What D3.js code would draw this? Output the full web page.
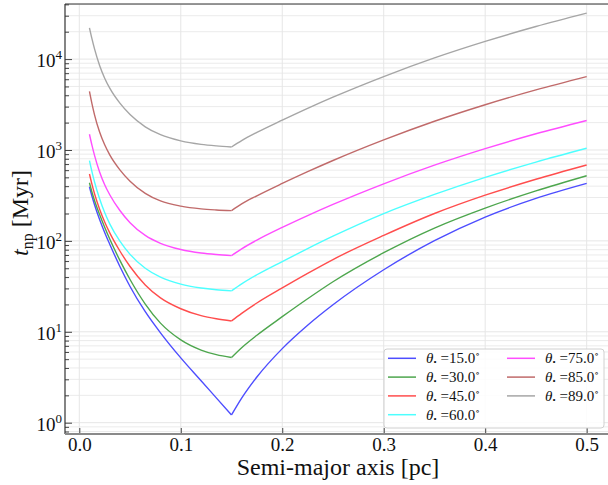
<!DOCTYPE html>
<html>
<head>
<meta charset="utf-8">
<script src="https://cdn.jsdelivr.net/npm/d3@7"></script>
<style>
  html, body { margin: 0; padding: 0; background: #fff; }
  svg { display: block; }
  text { font-family: "Liberation Serif", "DejaVu Serif", serif; }
</style>
</head>
<body>
<svg id="chart" width="608" height="485"></svg>
<script>
// ---- data ----
const semiMajor = [0.01, 0.0125, 0.015, 0.02, 0.025, 0.03, 0.04, 0.05, 0.065, 0.08, 0.1, 0.12, 0.135, 0.15,
                   0.16, 0.175, 0.2, 0.225, 0.25, 0.3, 0.35, 0.4, 0.45, 0.5];
const kinkA = 0.15;
const thetas = [15, 30, 45, 60, 75, 85, 89];
const t15 = [394.5, 309.7, 250.3, 172.2, 124.0, 91.9, 52.3, 31.5, 16.63, 9.74, 5.16, 2.894, 1.876, 1.216,
             1.862, 3.181, 6.53, 11.81, 19.84, 48.14, 100.6, 183.0, 293.4, 429.1];
const t30 = [436.5, 342.8, 278.6, 195.0, 141.3, 104.7, 61.0, 37.6, 20.18, 12.45, 8.15, 6.30, 5.60, 5.22,
             6.68, 9.16, 14.66, 23.07, 35.5, 74.1, 138.4, 229.6, 354.8, 521.2];
const t45 = [544.5, 417.8, 330.0, 223.1, 161.6, 122.6, 77.4, 52.3, 32.8, 23.6, 17.93, 15.05, 13.90, 13.15,
             15.96, 20.75, 30.4, 43.95, 62.4, 114.8, 200.0, 318.4, 476.4, 683.9];
const t60 = [762, 574, 445, 291, 205, 154, 99.3, 71.1, 50.0, 39.9, 33.4, 30.3, 29.0, 28.2,
             33.7, 42.4, 59.3, 82.2, 112.5, 199.5, 324.3, 500, 736, 1045];
const t75 = [1489, 1122, 871, 573, 415, 322, 216, 158.5, 114.8, 94.0, 80.4, 73.6, 70.8, 68.9,
             81.8, 101.9, 140.6, 189.7, 251.8, 424.6, 680.8, 1035, 1507, 2113];
const t85 = [4406, 3214, 2438, 1574, 1140, 885, 605, 454, 333, 275, 241, 225, 219, 215,
             255, 313, 428, 577, 766, 1291, 2070, 3148, 4581, 6427];
const t89 = [22080, 16670, 12940, 8511, 6166, 4786, 3273, 2455, 1799, 1472, 1259, 1153, 1109, 1079,
             1268, 1560, 2128, 2871, 3811, 6427, 10304, 15668, 22803, 31989];
const seriesValues = [t15, t30, t45, t60, t75, t85, t89];
const colors = ["#4d4dff", "#4da64d", "#ff4d4d", "#4dffff", "#ff4dff", "#c06a6a", "#a6a6a6"];
const xTicks = [0.0, 0.1, 0.2, 0.3, 0.4, 0.5];
const yMajor = [1, 10, 100, 1000, 10000];

// ---- layout ----
const plot = { left: 65, right: 610, top: 4, bottom: 434 };
const svg = d3.select("#chart");

const x = d3.scaleLinear().domain([-0.0141, 0.523]).range([plot.left, plot.right]);
const y = d3.scaleLog().domain([0.751, 40360]).range([plot.bottom, plot.top]);

// minor log ticks
const yMinor = [];
for (let e = -1; e <= 4; e++) {
  for (let m = 2; m <= 9; m++) {
    const v = m * Math.pow(10, e);
    if (v >= y.domain()[0] && v <= y.domain()[1]) yMinor.push(v);
  }
}

svg.append("defs").append("clipPath").attr("id", "clip")
  .append("rect").attr("x", plot.left).attr("y", plot.top)
  .attr("width", plot.right - plot.left).attr("height", plot.bottom - plot.top);

// grid
const grid = svg.append("g");
grid.selectAll(".gm").data(yMinor).join("line")
  .attr("x1", plot.left).attr("x2", plot.right)
  .attr("y1", d => y(d)).attr("y2", d => y(d))
  .attr("stroke", "#ebebeb").attr("stroke-width", 1);
grid.selectAll(".gM").data(yMajor).join("line")
  .attr("x1", plot.left).attr("x2", plot.right)
  .attr("y1", d => y(d)).attr("y2", d => y(d))
  .attr("stroke", "#e6e6e6").attr("stroke-width", 1);
grid.selectAll(".gx").data(xTicks).join("line")
  .attr("x1", d => x(d)).attr("x2", d => x(d))
  .attr("y1", plot.top).attr("y2", plot.bottom)
  .attr("stroke", "#e6e6e6").attr("stroke-width", 1);

// lines (split at the kink so it stays sharp)
const line = d3.line().x(d => x(d[0])).y(d => y(d[1])).curve(d3.curveMonotoneX);
const linesG = svg.append("g").attr("clip-path", "url(#clip)");
seriesValues.forEach((vals, i) => {
  const pts = semiMajor.map((a, j) => [a, vals[j]]);
  const left = pts.filter(p => p[0] <= kinkA);
  const right = pts.filter(p => p[0] >= kinkA);
  [left, right].forEach(seg => {
    linesG.append("path").datum(seg)
      .attr("d", line).attr("fill", "none")
      .attr("stroke", colors[i]).attr("stroke-width", 1.4)
      .attr("stroke-linejoin", "miter");
  });
});

// axes
const axisColor = "#444";
const yAxisMajor = d3.axisLeft(y).tickValues(yMajor).tickSizeInner(-7).tickSizeOuter(0).tickFormat("");
const yAxisMinor = d3.axisLeft(y).tickValues(yMinor).tickSizeInner(-4).tickSizeOuter(0).tickFormat("");
const gyMinor = svg.append("g").attr("transform", `translate(${plot.left},0)`).call(yAxisMinor);
const gy = svg.append("g").attr("transform", `translate(${plot.left},0)`).call(yAxisMajor);
[gy, gyMinor].forEach(g => {
  g.select(".domain").remove();
  g.selectAll(".tick line").attr("stroke", axisColor).attr("stroke-width", 1);
});
gy.selectAll(".tick").each(function(d) {
  const t = d3.select(this).append("text")
    .attr("x", -3).attr("y", 7.5)
    .attr("text-anchor", "end").attr("fill", "#111")
    .attr("font-size", 19);
  t.append("tspan").text("10");
  t.append("tspan").attr("font-size", 13).attr("dy", -8).text(Math.round(Math.log10(d)));
});

const xAxis = d3.axisBottom(x).tickValues(xTicks).tickSizeInner(-6).tickSizeOuter(0)
  .tickFormat(d3.format(".1f")).tickPadding(10);
const gx = svg.append("g").attr("transform", `translate(0,${plot.bottom})`).call(xAxis);
gx.select(".domain").remove();
gx.selectAll(".tick line").attr("stroke", axisColor).attr("stroke-width", 1);
gx.selectAll(".tick text").attr("font-size", 19).attr("fill", "#111")
  .attr("font-family", "Liberation Serif, serif").attr("dy", "0.71em").attr("y", 4);

// spines
svg.append("line").attr("x1", plot.left).attr("x2", plot.right).attr("y1", plot.top).attr("y2", plot.top)
  .attr("stroke", "#333").attr("stroke-width", 1.2);
svg.append("line").attr("x1", plot.left).attr("x2", plot.left).attr("y1", plot.top).attr("y2", plot.bottom)
  .attr("stroke", "#333").attr("stroke-width", 1.2);
svg.append("line").attr("x1", plot.left).attr("x2", plot.right).attr("y1", plot.bottom).attr("y2", plot.bottom)
  .attr("stroke", "#8a8a8a").attr("stroke-width", 1.8);

// axis labels
svg.append("text").attr("x", 338).attr("y", 475).attr("text-anchor", "middle")
  .attr("font-size", 24).attr("fill", "#111").text("Semi-major axis [pc]");
const yl = svg.append("text").attr("transform", "translate(28,213) rotate(-90)")
  .attr("text-anchor", "middle").attr("font-size", 24).attr("fill", "#111");
yl.append("tspan").attr("font-style", "italic").text("t");
yl.append("tspan").attr("font-size", 16).attr("dy", 5).text("np");
yl.append("tspan").attr("dy", -5).text(" [Myr]");

// legend
const lg = svg.append("g");
lg.append("rect").attr("x", 384).attr("y", 349).attr("width", 220).attr("height", 79)
  .attr("rx", 3).attr("fill", "#fff").attr("fill-opacity", 0.85)
  .attr("stroke", "#d0d0d0").attr("stroke-width", 1);
thetas.forEach((th, i) => {
  const col = i < 4 ? 0 : 1;
  const row = i < 4 ? i : i - 4;
  const lx = col === 0 ? 388 : 507;
  const ly = 358.3 + row * 18.8;
  lg.append("line").attr("x1", lx).attr("x2", lx + 28).attr("y1", ly).attr("y2", ly)
    .attr("stroke", colors[i]).attr("stroke-width", 1.5);
  const t = lg.append("text").attr("x", lx + 38).attr("y", ly + 5)
    .attr("font-size", 15).attr("fill", "#111");
  t.append("tspan").attr("font-style", "italic").text("θ");
  t.append("tspan").attr("font-size", 9).attr("dy", 2).text("•");
  t.append("tspan").attr("dy", -2).attr("dx", 4).text("=" + th.toFixed(1));
  t.append("tspan").attr("font-size", 9).attr("dy", -6).text("∘");
});
</script>
</body>
</html>
